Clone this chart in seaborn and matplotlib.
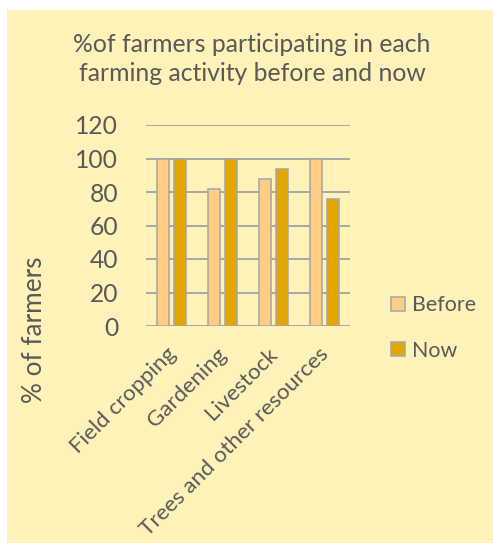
import matplotlib
matplotlib.use("Agg")
import matplotlib.pyplot as plt
from matplotlib.patches import Rectangle
import matplotlib.transforms as mtransforms
import seaborn as sns
import pandas as pd

# Share of farmers taking part in each activity
activities = ["Field cropping", "Gardening", "Livestock", "Trees and other resources"]
periods = ["Before", "Now"]
before_pct = [100, 82, 88, 100]
now_pct = [100, 100, 94, 76]

title = "%of farmers participating in each\nfarming activity before and now"
y_label = "% of farmers"
y_ticks = [0, 20, 40, 60, 80, 100, 120]

bg = "#FEF2B9"
text_col = "#595959"
grid_col = "#A6A6A6"
palette = {"Before": "#FFCC83", "Now": "#E2A700"}

df = pd.DataFrame({
    "activity": activities * 2,
    "period": ["Before"] * len(activities) + ["Now"] * len(activities),
    "pct": before_pct + now_pct,
})

sns.set_theme(style="white")
plt.rcParams["font.family"] = ["Lato", "DejaVu Sans"]

W, H = 493, 546
fig = plt.figure(figsize=(W / 100, H / 100), dpi=100)
fig.patch.set_facecolor("white")
fig.add_artist(Rectangle((7 / W, 3 / H), 1, (533 / H), transform=fig.transFigure,
                         facecolor=bg, edgecolor="none", zorder=0))

ax = fig.add_axes([146 / W, 1 - 326 / H, (350 - 146) / W, (326 - 125) / H])
ax.set_facecolor("none")

sns.barplot(data=df, x="activity", y="pct", hue="period", order=activities,
            hue_order=periods, palette=palette, width=0.63, gap=0.25,
            edgecolor=grid_col, linewidth=1.1, saturation=1, ax=ax,
            legend=False, zorder=3)

ax.set_ylim(0, 120)
ax.set_xlim(-0.5, len(activities) - 0.5)
ax.set_yticks(y_ticks)
ax.yaxis.grid(True, color=grid_col, linewidth=1.4, zorder=0)
ax.set_axisbelow(True)
for s in ax.spines.values():
    s.set_visible(False)

ax.tick_params(axis="y", length=0, pad=20, labelsize=17.7, labelcolor=text_col)
ax.tick_params(axis="x", length=0, pad=13, labelsize=16.1, labelcolor=text_col)
shift = mtransforms.ScaledTranslation(-6 / 100, 0, fig.dpi_scale_trans)
for lab in ax.get_xticklabels():
    lab.set_rotation(45)
    lab.set_ha("right")
    lab.set_rotation_mode("anchor")
    lab.set_transform(lab.get_transform() + shift)

ax.set_xlabel("")
ax.set_ylabel("")
fig.text(35 / W, 1 - 330 / H, y_label, rotation=90, ha="center", va="center",
         fontsize=18.8, color=text_col)
fig.text(252 / W, 1 - 59 / H, title, ha="center", va="center", fontsize=17.8,
         color=text_col, linespacing=1.35)

handles = [Rectangle((0, 0), 1, 1, facecolor=palette[p], edgecolor=grid_col,
                     linewidth=1.1) for p in periods]
leg = fig.legend(handles, periods, loc="center left",
                 bbox_to_anchor=(372 / W, 1 - 328 / H), frameon=False,
                 fontsize=15.4, labelcolor=text_col, handlelength=0.65,
                 handleheight=0.65, handletextpad=0.3, labelspacing=1.2)

fig.savefig("out.png", dpi=100, facecolor="white")
